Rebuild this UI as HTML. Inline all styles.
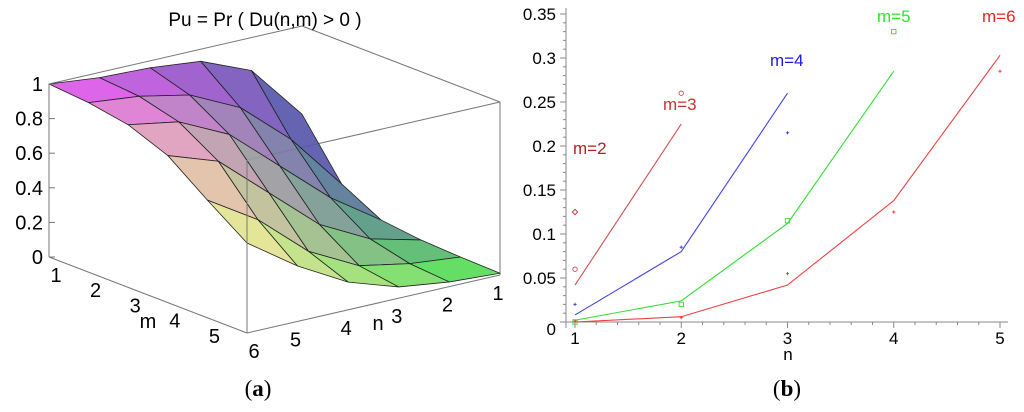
<!DOCTYPE html>
<html><head><meta charset="utf-8"><style>
html,body{margin:0;padding:0;background:#fff;}
svg{display:block;font-family:"Liberation Sans",sans-serif;}
</style></head><body>
<svg id="fig" width="1024" height="412" viewBox="0 0 1024 412">
<g id="left"></g>
<g id="right"></g>
<text x="258" y="396" font-family="Liberation Serif,serif" font-size="23" text-anchor="middle">(<tspan font-weight="bold">a</tspan>)</text>
<text x="787" y="396" font-family="Liberation Serif,serif" font-size="23" text-anchor="middle">(<tspan font-weight="bold">b</tspan>)</text>
</svg>
<script>
const NS='http://www.w3.org/2000/svg';
function mk(parent,tag,attrs,txt){const e=document.createElementNS(NS,tag);for(const k in attrs)e.setAttribute(k,attrs[k]);if(txt!==undefined)e.textContent=txt;parent.appendChild(e);return e;}

/* ---------- Surface data (rows m=1..6, columns n=1..6) ---------- */
const mVals=[1,2,3,4,5,6];
const nVals=[1,2,3,4,5,6];
const zRows=[
 [0.49,0.81,0.93,0.96,0.97,1.00],
 [0.175,0.50,0.75,0.89,0.95,0.98],
 [0.054,0.25,0.50,0.75,0.89,0.94],
 [0.027,0.10,0.25,0.50,0.75,0.85],
 [0.016,0.045,0.10,0.25,0.50,0.68],
 [0.010,0.027,0.065,0.16,0.32,0.52]
];
const zTicks=[0,0.2,0.4,0.6,0.8,1];
const mTicks=[1,2,3,4,5,6];
const nTicks=[1,2,3,4,5];

/* ---------- Line chart data ---------- */
const nCats=[1,2,3,4,5];
const lineM3=[0.042,0.225];
const lineM4=[0.008,0.080,0.260];
const lineM5=[0.002,0.024,0.112,0.285];
const lineM6=[0.000,0.006,0.042,0.138,0.303];
const ptsM2=[0.125,0.060];
const ptsM3=[0.060,0.260];
const ptsM4=[0.020,0.085,0.215];
const ptsM5=[0.000,0.020,0.115,0.330];
const ptsM6=[0.001,0.005,0.055,0.125,0.285];
const yTicks=[0,0.05,0.1,0.15,0.2,0.25,0.3,0.35];
const yTickLabels=['0','0.05','0.1','0.15','0.2','0.25','0.3','0.35'];

/* ---------- Left 3D surface ---------- */
const L=document.getElementById('left');
function P(m,n,z){
  const x=49+(m-1)*39.6+(6-n)*50.6;
  const y=257+(m-1)*15.2-(6-n)*11.6-z*173;
  return [x,y];
}
const box=mk(L,'g',{stroke:'#777','stroke-width':1,fill:'none'});


function seg(a,b){mk(box,'line',{x1:a[0],y1:a[1],x2:b[0],y2:b[1]});}
seg(P(1,6,0),P(1,6,1));seg(P(1,6,1),P(1,1,1));seg(P(1,1,1),P(6,1,1));
seg(P(6,6,1),P(6,1,1));seg(P(6,1,1),P(6,1,0));seg(P(1,6,0),P(6,6,0));
seg(P(6,6,0),P(6,1,0));
mk(L,'text',{x:265,y:26,'font-size':19,'text-anchor':'middle'},'Pu = Pr ( Du(n,m) > 0 )');

function lerp(a,b,t){return a.map((v,i)=>v+(b[i]-v)*t);}
const cMag=[235,70,250],cBlue=[70,70,175],cYel=[245,245,140],cGrn=[70,235,70];
function col(m,n){const tm=(m-1)/5,tn=(6-n)/5;
 const top=lerp(cMag,cBlue,tn),bot=lerp(cYel,cGrn,tn);return lerp(top,bot,tm).map(Math.round);}
const surf=mk(L,'g',{stroke:'#222','stroke-width':0.8,'stroke-linejoin':'round'});


for(let i=0;i<mVals.length-1;i++){
 for(let j=nVals.length-2;j>=0;j--){
  const m0=mVals[i],m1=mVals[i+1],n0=nVals[j],n1=nVals[j+1];
  const pts=[P(m0,n0,zRows[i][j]),P(m0,n1,zRows[i][j+1]),P(m1,n1,zRows[i+1][j+1]),P(m1,n0,zRows[i+1][j])];
  const c=col((m0+m1)/2,(n0+n1)/2);
  const q=mk(surf,'polygon',{points:pts.map(p=>p.join(',')).join(' '),fill:`rgb(${c})`,'fill-opacity':0.92});
  
  
 }
}
mk(L,'line',{x1:P(6,6,1)[0],y1:P(6,6,1)[1],x2:P(6,6,0)[0],y2:P(6,6,0)[1],stroke:'#777','stroke-width':1});
zTicks.forEach(z=>{const p=P(1,6,z);
 mk(L,'line',{x1:p[0],y1:p[1],x2:p[0]+6,y2:p[1],stroke:'#777'});
 const t=mk(L,'text',{x:43,y:p[1]+7,'font-size':20,'text-anchor':'end'},String(z));
 });
mTicks.forEach(m=>{const p=P(m,6,0);
 const t=mk(L,'text',{x:p[0]+7,y:p[1]+25,'font-size':20,'text-anchor':'middle'},String(m));
 });
mk(L,'text',{x:148,y:328,'font-size':20,'text-anchor':'middle'},'m');
nTicks.forEach(n=>{const p=P(6,n,0);
 const t=mk(L,'text',{x:p[0]-2,y:p[1]+25,'font-size':20,'text-anchor':'middle'},String(n));
 });
mk(L,'text',{x:378,y:330,'font-size':20,'text-anchor':'middle'},'n');

/* ---------- Right line chart ---------- */
const R=document.getElementById('right');
const X=n=>575+(n-1)*106.25;
const Y=v=>322-v*880;
const ax=mk(R,'g',{stroke:'#888','stroke-width':1});


mk(ax,'line',{x1:566,y1:8,x2:566,y2:328});
mk(ax,'line',{x1:560,y1:322,x2:1008,y2:322});
for(let k=0;k<=35;k++){const y=Y(k/100);mk(ax,'line',{x1:k%5==0?560:563,y1:y,x2:566,y2:y});}
for(let k=0;k<=22;k++){const x=X(1+k*0.2);if(x<1008)mk(ax,'line',{x1:x,y1:322,x2:x,y2:k%5==0?328:325});}
yTicks.forEach((v,i)=>{const t=mk(R,'text',{x:556,y:Y(v)+(i==0?13:6),'font-size':17,'text-anchor':'end'},yTickLabels[i]);
 });
nCats.forEach(n=>{const t=mk(R,'text',{x:X(n),y:344,'font-size':17,'text-anchor':'middle'},String(n));
 });
mk(R,'text',{x:788,y:360,'font-size':17,'text-anchor':'middle'},'n');

function line(vals,color,name){
 const p=mk(R,'polyline',{points:vals.map((v,i)=>X(nCats[i])+','+Y(v)).join(' '),fill:'none',stroke:color,'stroke-width':1.1});
 }
line(lineM3,'#d05050','line-m3');
line(lineM4,'#4444ee','line-m4');
line(lineM5,'#33dd33','line-m5');
line(lineM6,'#f04040','line-m6');
function pts(vals,color,shape,name,xs){
 vals.forEach((v,i)=>{const x=X(xs?xs[i]:nCats[i]),y=Y(v);let e;
  if(shape=='circle')e=mk(R,'circle',{cx:x,cy:y,r:2.2,fill:'none',stroke:color,'stroke-width':0.9});
  else if(shape=='diamond')e=mk(R,'polygon',{points:`${x},${y-2.7} ${x+2.7},${y} ${x},${y+2.7} ${x-2.7},${y}`,fill:'none',stroke:color,'stroke-width':0.9});
  else if(shape=='square')e=mk(R,'rect',{x:x-2.2,y:y-2.2,width:4.4,height:4.4,fill:'none',stroke:color,'stroke-width':0.9});
  else e=mk(R,'path',{d:`M${x-1.6},${y}H${x+1.6}M${x},${y-1.6}V${y+1.6}`,stroke:color,'stroke-width':1});
  });}
pts([ptsM2[0]],'#c03030','diamond','point-m2',[1]);
pts([ptsM2[1]],'#d05050','circle','point-m2',[1]);
pts([ptsM3[1]],'#d05050','circle','point-m3',[2]);
pts(ptsM4,'#4444ee','cross','point-m4');
pts(ptsM5,'#33dd33','square','point-m5');
pts(ptsM6,'#f04040','cross','point-m6');
[['m=2',573,154,'#b22222'],['m=3',663,110,'#c83232'],['m=4',770,66,'#1a1aee'],['m=5',877,22,'#22ee22'],['m=6',982,22,'#ee2222']].forEach(a=>{
 const t=mk(R,'text',{x:a[1],y:a[2],'font-size':17,fill:a[3]},a[0]);
 });
</script>
</body></html>
